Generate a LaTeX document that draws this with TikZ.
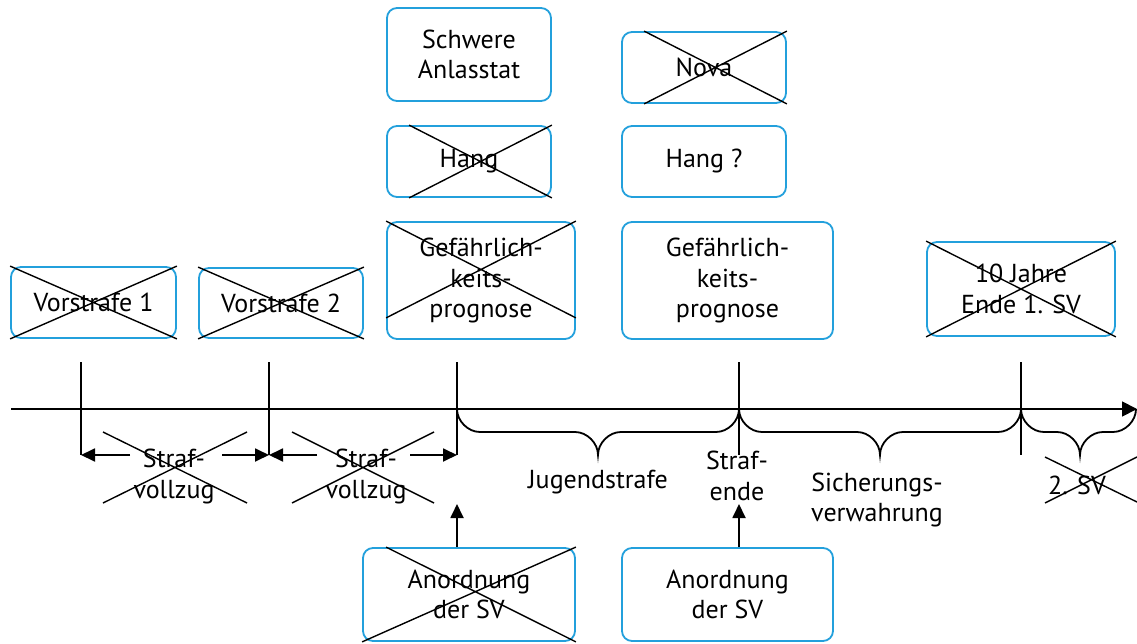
\documentclass[tikz,border=0pt]{standalone}
\usepackage{fontspec}
\setmainfont{PT Sans}
\usetikzlibrary{calc,arrows.meta}
\definecolor{boxblue}{RGB}{35,160,220}
\begin{document}
\begin{tikzpicture}[x=1pt,y=-1pt,
  txt/.style={font=\fontsize{26}{30.5}\selectfont},
  box/.style={txt, draw=boxblue, line width=1.8pt, rounded corners=10pt,
    align=center, inner sep=0pt},
  lbl/.style={txt, align=center, inner sep=0pt},
  strike/.style={line width=1.4pt},
  axis/.style={line width=1.8pt},
  tip/.style={-{Triangle[length=14pt,width=13pt]}}
]
\useasboundingbox (0,0) rectangle (1137,644);

% boxes above the time line
\node[box, minimum width=165pt, minimum height=71pt] (v1) at (93.5,302.5) {Vorstrafe 1};
\node[box, minimum width=164pt, minimum height=70pt] (v2) at (281,303) {Vorstrafe 2};
\node[box, minimum width=164pt, minimum height=93pt] (tat) at (469,54.5) {Schwere\\Anlasstat};
\node[box, minimum width=164pt, minimum height=71pt] (hang1) at (469,161.5) {Hang};
\node[box, minimum width=188pt, minimum height=117pt] (gp1) at (481,280.5) {Gefährlich-\\keits-\\prognose};
\node[box, minimum width=164pt, minimum height=71pt] (nova) at (704,67.5) {Nova};
\node[box, minimum width=164pt, minimum height=71pt] (hang2) at (704,161.5) {Hang ?};
\node[box, minimum width=211pt, minimum height=117pt] (gp2) at (727.5,280.5) {Gefährlich-\\keits-\\prognose};
\node[box, minimum width=188pt, minimum height=94pt] (ende) at (1021,289) {10 Jahre\\Ende 1. SV};

% boxes below the time line
\node[box, minimum width=212pt, minimum height=93pt] (anl1) at (469,594.5) {Anordnung\\der SV};
\node[box, minimum width=211pt, minimum height=93pt] (anl2) at (727.5,594.5) {Anordnung\\der SV};

% struck-out boxes
\draw[strike] (v1.north west) -- (v1.south east) (v1.south west) -- (v1.north east);
\draw[strike] (v2.north west) -- (v2.south east) (v2.south west) -- (v2.north east);
\draw[strike] ($(hang1.north west)+(23,0)$) -- (hang1.south east)
              ($(hang1.south west)+(23,0)$) -- (hang1.north east);
\draw[strike] (gp1.north west) -- ($(gp1.south east)+(0,-22)$)
              ($(gp1.south west)+(0,-22)$) -- (gp1.north east);
\draw[strike] ($(nova.north west)+(23,0)$) -- (nova.south east)
              ($(nova.south west)+(23,0)$) -- (nova.north east);
\draw[strike] (ende.north west) -- (ende.south east) (ende.south west) -- (ende.north east);
\draw[strike] ($(anl1.north west)+(24,0)$) -- (anl1.south east)
              (anl1.south west) -- (anl1.north east);

% time line and ticks
\coordinate (start) at (11,409);
\coordinate (stop) at (1137,409);
\draw[axis, -{Triangle[length=15pt,width=15pt]}] (start) -- (stop);
\foreach \n/\x in {1/81,2/269,3/457,4/739,5/1021}{
  \coordinate (top\n) at (\x,362);
  \coordinate (bot\n) at (\x,455);
  \draw[axis] (top\n) -- (bot\n);
}

% Strafvollzug spans
\node[lbl] (sv1) at (174,476.5) {Straf-\\vollzug};
\node[lbl] (sv2) at (366,476.5) {Straf-\\vollzug};
\draw[axis, tip] (130,455) -- (bot1);
\draw[axis, tip] (222,455) -- (bot2);
\draw[axis, tip] (317,455) -- (bot2);
\draw[axis, tip] (410,455) -- (bot3);
\draw[strike] (103,432) -- (247,503) (103,503) -- (247,432);
\draw[strike] (292,432) -- (434,503) (292,503) -- (434,432);

% braces below the time line
\newcommand{\timebrace}[3]{%
  \draw[axis] (#1,409) .. controls (#1,421) and (#1+11,432) .. (#1+23,432)
    -- (#3-23,432) .. controls (#3-11,432) and (#3,443) .. (#3,455)
    .. controls (#3,443) and (#3+11,432) .. (#3+23,432)
    -- (#2-23,432) .. controls (#2-11,432) and (#2,421) .. (#2,409);}
\timebrace{457}{739}{598}
\timebrace{739}{1021}{880}
\timebrace{1021}{1136}{1080}

\node[lbl] (jug) at (598,482) {Jugendstrafe};
\node[lbl] (sende) at (737,476) {Straf-\\ende};
\node[lbl] (sich) at (877,500) {Sicherungs-\\verwahrung};
\node[lbl] (sv) at (1077,485) {2. SV};
\draw[strike] (1045,457) -- (1137,502) (1045,503) -- (1137,457);

% orders pointing at the time line
\coordinate (up1) at (457,504);
\coordinate (up2) at (739,504);
\draw[axis, tip] (anl1.north -| up1) -- (up1);
\draw[axis, tip] (anl2.north -| up2) -- (up2);
\end{tikzpicture}
\end{document}
